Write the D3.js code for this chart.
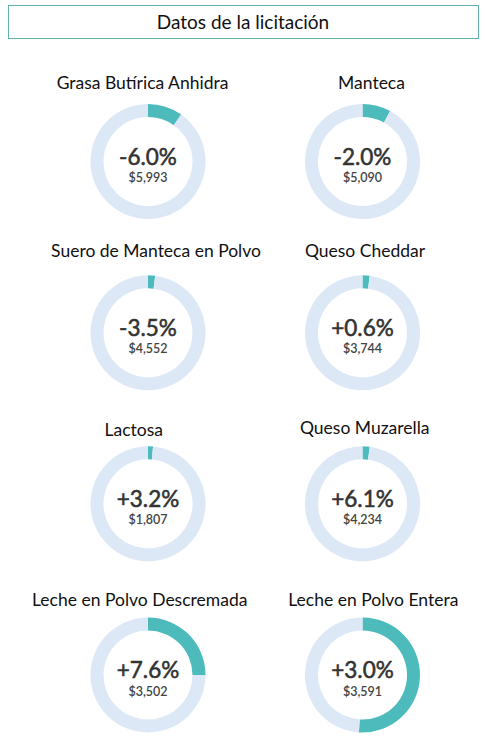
<!DOCTYPE html>
<html><head><meta charset="utf-8">
<script src="https://cdn.jsdelivr.net/npm/d3@7"></script>
<style>
html,body{margin:0;padding:0;background:#fff;}
svg{display:block;}
</style></head>
<body>
<svg id="chart" width="485" height="741"></svg>
<script>
const title = "Datos de la licitación";
const products = ["Grasa Butírica Anhidra","Manteca","Suero de Manteca en Polvo","Queso Cheddar","Lactosa","Queso Muzarella","Leche en Polvo Descremada","Leche en Polvo Entera"];
const changes = ["-6.0%","-2.0%","-3.5%","+0.6%","+3.2%","+6.1%","+7.6%","+3.0%"];
const prices = ["$5,993","$5,090","$4,552","$3,744","$1,807","$4,234","$3,502","$3,591"];
const shares = [0.098, 0.08, 0.02, 0.02, 0.014, 0.02, 0.25, 0.51];

// layout: label offsets from each donut centre (text boxes are placed individually)
const labelDx = [-5.5, 9, 8, 2.5, -14.3, 2.2, -8.3, 10.8];
const labelDy = [-73, -73, -76, -76, -68, -70, -69.3, -69.3];

const svg = d3.select("#chart");

svg.append("rect").attr("x",8.5).attr("y",5.5).attr("width",470).attr("height",33)
  .attr("fill","#fff").attr("stroke","#5fb3ad").attr("stroke-width",1);
svg.append("text").attr("x",243).attr("y",28.5).attr("text-anchor","middle")
  .attr("font-family","Lato, 'Open Sans', sans-serif").attr("font-size",19).attr("fill","#111").text(title);

const colX = d3.scalePoint().domain([0,1]).range([148,362.5]);
const rowCentres = [161.5, 332.8, 503.8, 675];
const rowY = d3.scaleOrdinal().domain([0,1,2,3]).range(rowCentres);

const rOuter = 57.5, rInner = 44.5;
const arc = d3.arc().innerRadius(rInner).outerRadius(rOuter);
const pie = d3.pie().sort(null).value(d=>d);
const colors = ["#4dbbbc","#dce8f6"];

products.forEach((p,i)=>{
  const cx = colX(i%2), cy = rowY(Math.floor(i/2));
  const g = svg.append("g").attr("transform",`translate(${cx},${cy})`);
  g.append("text").attr("x",labelDx[i]).attr("y",labelDy[i]).attr("text-anchor","middle")
    .attr("font-family","Lato, sans-serif").attr("font-size",17.5).attr("fill","#111").text(p);
  g.selectAll("path").data(pie([shares[i],1-shares[i]])).join("path")
    .attr("d",arc).attr("fill",(d,j)=>colors[j]);
  g.append("text").attr("y",3).attr("text-anchor","middle")
    .attr("font-family","Lato, sans-serif").attr("font-size",22.5).attr("font-weight",400)
    .attr("fill","#333").attr("stroke","#333").attr("stroke-width",0.55).text(changes[i]);
  g.append("text").attr("y",20.5).attr("text-anchor","middle")
    .attr("font-family","Lato, sans-serif").attr("font-size",12.5).attr("font-weight",600).attr("fill","#444").text(prices[i]);
});
</script>
</body></html>
